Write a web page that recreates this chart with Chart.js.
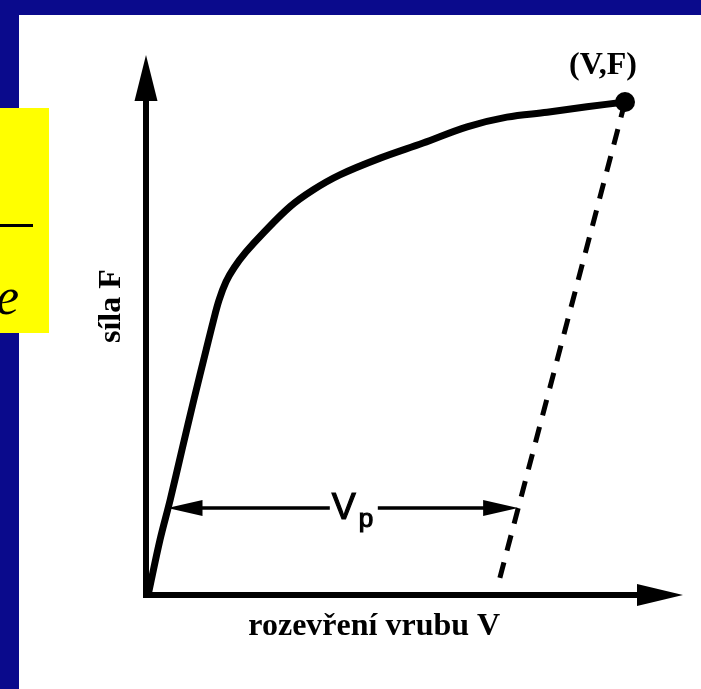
<!DOCTYPE html>
<html>
<head>
<meta charset="utf-8">
<script src="https://cdn.jsdelivr.net/npm/chart.js@4"></script>
<style>
html,body{margin:0;padding:0;background:#0a0a8c;}
#c{display:block;}
</style>
</head>
<body>
<canvas id="c" width="701" height="689"></canvas>
<script>
// Data (V = notch opening, F = force), arbitrary units 0..100
const curveV = [0.5, 2.6, 4.5, 6.7, 8.9, 11.2, 12.5, 13.6, 14.9, 16.4, 18.6, 21.8, 26.8, 31.1, 36.1, 43.6, 51.6, 59.8, 67.2, 74.7, 82.1, 89.2];
const curveF = [0.5, 10.2, 17.6, 26.9, 36.1, 45.4, 50.6, 54.6, 58.0, 60.6, 63.5, 67.0, 71.9, 75.0, 77.8, 80.9, 83.7, 86.7, 88.5, 89.4, 90.4, 91.3];
const unloadV = [89.2, 65.4];
const unloadF = [91.3, 1.3];
const vpLevel = 16.1;       // F level of the Vp arrow
const vpStart = 4.0;        // V at curve
const vpEnd = 69.3;         // V at dashed line
const xTitlePos = 42.5;     // V position of the x axis title centre
const yTitlePos = 53.5;     // F position of the y axis title centre
const labels = {
  x: 'rozevření vrubu V',
  y: 'síla F',
  point: '(V,F)',
  vp: 'V',
  vpSub: 'p'
};

const toPts = (xs, ys) => xs.map((x, i) => ({x: x, y: ys[i]}));

const decor = {
  id: 'decor',
  beforeDraw(chart) {
    const ctx = chart.ctx;
    ctx.save();
    ctx.fillStyle = '#0a0a8c';
    ctx.fillRect(0, 0, chart.width, chart.height);
    ctx.fillStyle = '#ffffff';
    ctx.fillRect(19, 15, chart.width - 19, chart.height - 15);
    // yellow side box (partial slide content)
    ctx.fillStyle = '#ffff00';
    ctx.fillRect(0, 108, 49, 225);
    ctx.fillStyle = '#000';
    ctx.fillRect(0, 224, 33, 3);
    ctx.font = 'italic 52px "Liberation Serif"';
    ctx.textAlign = 'right';
    ctx.textBaseline = 'alphabetic';
    ctx.fillText('e', 19, 314);
    ctx.restore();
  },
  afterDatasetsDraw(chart) {
    const ctx = chart.ctx;
    const xs = chart.scales.x, ys = chart.scales.y;
    const x0 = xs.getPixelForValue(0), y0 = ys.getPixelForValue(0);
    const xMax = xs.getPixelForValue(100), yMax = ys.getPixelForValue(100);
    ctx.save();
    ctx.fillStyle = '#000';
    ctx.strokeStyle = '#000';
    // axes
    ctx.lineWidth = 6;
    ctx.lineCap = 'butt';
    ctx.beginPath();
    ctx.moveTo(x0, y0 + 3);
    ctx.lineTo(x0, yMax + 40);
    ctx.moveTo(x0 - 3, y0);
    ctx.lineTo(xMax - 40, y0);
    ctx.stroke();
    // y arrow head
    ctx.beginPath();
    ctx.moveTo(x0, yMax);
    ctx.lineTo(x0 - 11.5, yMax + 46);
    ctx.lineTo(x0 + 11.5, yMax + 46);
    ctx.closePath();
    ctx.fill();
    // x arrow head
    ctx.beginPath();
    ctx.moveTo(xMax, y0);
    ctx.lineTo(xMax - 46, y0 - 11);
    ctx.lineTo(xMax - 46, y0 + 11);
    ctx.closePath();
    ctx.fill();

    // Vp dimension arrow
    const vy = ys.getPixelForValue(vpLevel);
    const vl = xs.getPixelForValue(vpStart);
    const vr = xs.getPixelForValue(vpEnd);
    const mid = (vl + vr) / 2;
    ctx.lineWidth = 3.5;
    ctx.beginPath();
    ctx.moveTo(vl + 20, vy);
    ctx.lineTo(mid - 13, vy);
    ctx.moveTo(mid + 35, vy);
    ctx.lineTo(vr - 20, vy);
    ctx.stroke();
    ctx.beginPath();
    ctx.moveTo(vl, vy);
    ctx.lineTo(vl + 35, vy - 8);
    ctx.lineTo(vl + 35, vy + 8);
    ctx.closePath();
    ctx.fill();
    ctx.beginPath();
    ctx.moveTo(vr, vy);
    ctx.lineTo(vr - 35, vy - 8);
    ctx.lineTo(vr - 35, vy + 8);
    ctx.closePath();
    ctx.fill();
    ctx.textAlign = 'left';
    ctx.textBaseline = 'middle';
    ctx.lineWidth = 1.2;
    ctx.font = '36px "Liberation Sans"';
    ctx.fillText(labels.vp, mid - 11, vy + 1);
    ctx.strokeText(labels.vp, mid - 11, vy + 1);
    ctx.font = '26px "Liberation Sans"';
    ctx.fillText(labels.vpSub, mid + 16, vy + 12);
    ctx.strokeText(labels.vpSub, mid + 16, vy + 12);

    // texts
    ctx.fillStyle = '#000';
    ctx.font = 'bold 32px "Liberation Serif"';
    ctx.textAlign = 'center';
    ctx.textBaseline = 'middle';
    const px = xs.getPixelForValue(unloadV[0]);
    const py = ys.getPixelForValue(unloadF[0]);
    ctx.fillText(labels.point, px - 22, py - 36);
    ctx.fillText(labels.x, xs.getPixelForValue(xTitlePos), y0 + 32);
    ctx.save();
    ctx.translate(x0 - 34, ys.getPixelForValue(yTitlePos));
    ctx.rotate(-Math.PI / 2);
    ctx.fillText(labels.y, 0, 0);
    ctx.restore();
    ctx.restore();
  }
};

new Chart(document.getElementById('c'), {
  type: 'scatter',
  data: {
    datasets: [
      {
        data: toPts(curveV, curveF),
        showLine: true,
        borderColor: '#000',
        borderWidth: 7,
        pointRadius: 0,
        tension: 0.35,
        clip: false
      },
      {
        data: toPts(unloadV, unloadF),
        showLine: true,
        borderColor: '#000',
        borderWidth: 5,
        borderDash: [16, 12],
        pointRadius: 0,
        clip: false
      },
      {
        data: [{x: unloadV[0], y: unloadF[0]}],
        pointRadius: 10,
        pointBackgroundColor: '#000',
        pointBorderWidth: 0,
        clip: false
      }
    ]
  },
  options: {
    responsive: false,
    animation: false,
    events: [],
    layout: {padding: {left: 146, right: 18, top: 55, bottom: 94}},
    plugins: {legend: {display: false}, tooltip: {enabled: false}},
    scales: {
      x: {type: 'linear', min: 0, max: 100, display: false},
      y: {type: 'linear', min: 0, max: 100, display: false}
    }
  },
  plugins: [decor]
});
</script>
</body>
</html>
